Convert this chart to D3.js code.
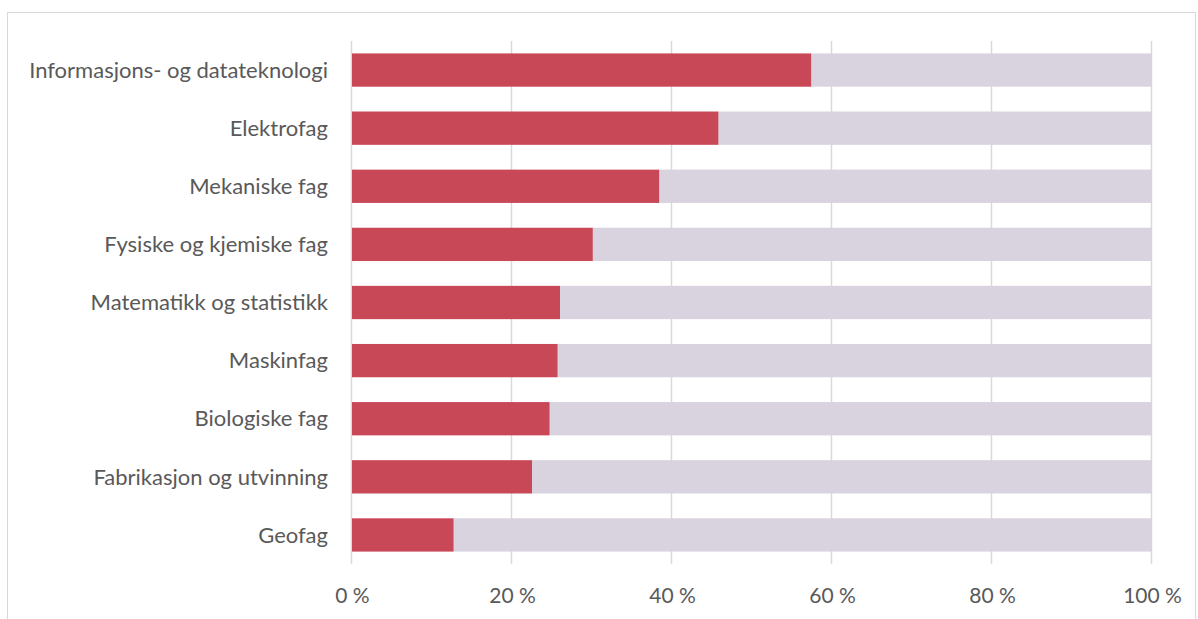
<!DOCTYPE html>
<html><head><meta charset="utf-8">
<script src="https://cdn.jsdelivr.net/npm/d3@7"></script>
<style>body{margin:0;background:#fff;} svg{display:block;}</style>
</head><body>
<script>
const categories = ["Informasjons- og datateknologi","Elektrofag","Mekaniske fag","Fysiske og kjemiske fag","Matematikk og statistikk","Maskinfag","Biologiske fag","Fabrikasjon og utvinning","Geofag"];
const shareValues = [57.4, 45.8, 38.4, 30.1, 26.0, 25.7, 24.7, 22.5, 12.7];
const restValues = shareValues.map(v => 100 - v);
const tickValues = [0, 20, 40, 60, 80, 100];
const tickLabels = ["0 %","20 %","40 %","60 %","80 %","100 %"];

const W = 1198, H = 619;
const svg = d3.select("body").append("svg").attr("width", W).attr("height", H);
const font = "Lato, 'Open Sans', sans-serif";
const textColor = "#595959";

svg.append("rect").attr("x", 7.5).attr("y", 12.5).attr("width", 1188).attr("height", 640)
  .attr("fill", "none").attr("stroke", "#d9d9d9").attr("stroke-width", 1);

const x = d3.scaleLinear().domain([0, 100]).range([352, 1152]);
const y = d3.scaleBand().domain(categories).range([41, 564]).paddingInner(0.427).paddingOuter(0.2135);

// gridlines
svg.append("g").selectAll("line").data(tickValues).join("line")
  .attr("x1", d => x(d) - 0.5).attr("x2", d => x(d) - 0.5)
  .attr("y1", 41).attr("y2", 564)
  .attr("stroke", "#d9d9d9").attr("stroke-width", 1.5);

const stack = categories.map((c, i) => ({c, a: shareValues[i], b: restValues[i]}));
const g = svg.append("g");
g.selectAll("rect.rest").data(stack).join("rect").attr("class","rest")
  .attr("x", d => x(d.a)).attr("width", d => x(d.a + d.b) - x(d.a))
  .attr("y", d => y(d.c)).attr("height", y.bandwidth())
  .attr("fill", "#d9d2df");
g.selectAll("rect.share").data(stack).join("rect").attr("class","share")
  .attr("x", x(0)).attr("width", d => x(d.a) - x(0))
  .attr("y", d => y(d.c)).attr("height", y.bandwidth())
  .attr("fill", "#c84858");

// y labels
svg.append("g").selectAll("text").data(categories).join("text")
  .attr("x", 328).attr("y", d => y(d) + y.bandwidth()/2)
  .attr("dy", "0.35em").attr("text-anchor", "end")
  .attr("font-family", font).attr("font-size", 22).attr("fill", textColor)
  .text(d => d);

// x tick labels
const xAxis = d3.axisBottom(x).tickValues(tickValues).tickSize(0).tickPadding(0)
  .tickFormat((d, i) => tickLabels[i]);
const ax = svg.append("g").attr("transform", "translate(0,603)").call(xAxis);
ax.select(".domain").remove();
ax.selectAll("text").attr("font-family", font).attr("font-size", 21).attr("fill", textColor).attr("dy", "0");
</script>
</body></html>
